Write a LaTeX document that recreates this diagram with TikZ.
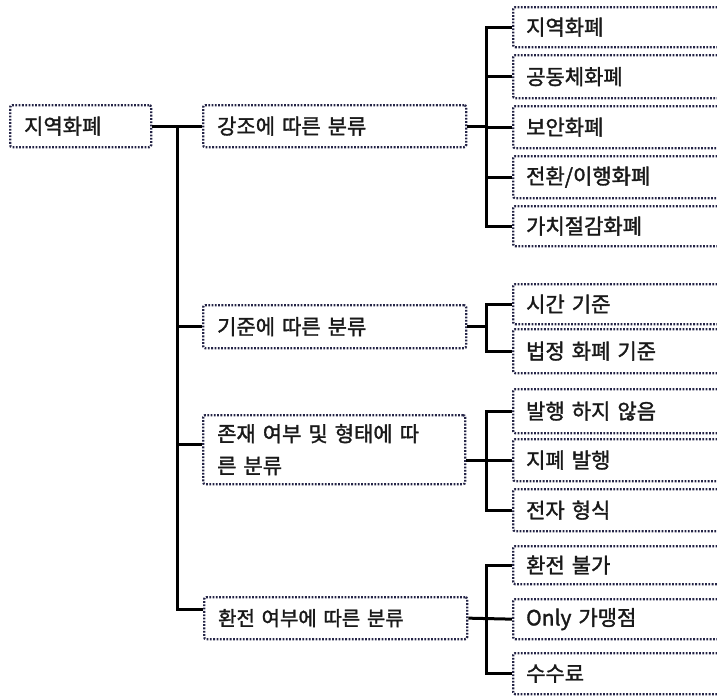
\documentclass[tikz,border=0pt]{standalone}
\usepackage{fontspec}
\usetikzlibrary{calc}
\setmainfont{Noto Sans CJK KR}[FakeBold=1.6]
\definecolor{boxc}{RGB}{36,36,70}
\definecolor{txt}{RGB}{25,25,25}
\tikzset{
  dbox/.style={draw=boxc, line width=2.3pt, dash pattern=on 1.8pt off 1.5pt,
    rounded corners=2pt, inner xsep=14pt, inner ysep=0pt, anchor=north west,
    align=left, text=txt, font=\fontsize{21}{32}\selectfont},
  kid/.style={dbox, text width=200pt, inner xsep=13pt},
  mid/.style={dbox, text width=235pt},
  conn/.style={line width=3pt, black}
}
\begin{document}
\begin{tikzpicture}[x=1pt,y=-1pt]
\useasboundingbox (0,0) rectangle (717,696);
\clip (0,0) rectangle (717,696);

% root and level 1
\node[dbox, text width=113pt, minimum height=42pt] (root) at (9,104) {지역화폐};
\node[mid, minimum height=42pt] (p1) at (202,104) {강조에 따른 분류};
\node[mid, minimum height=43pt] (p2) at (202,304) {기준에 따른 분류};
\node[mid, minimum height=69pt, text width=234pt] (p3) at (202,414) {존재 여부 및 형태에 따\\른 분류};
\node[mid, minimum height=42pt, font=\fontsize{20}{24}\selectfont] (p4) at (203,596) {환전 여부에 따른 분류};

% level 2
\node[kid, minimum height=40pt] (c11) at (512,6) {지역화폐};
\node[kid, minimum height=43pt] (c12) at (512,54) {공동체화폐};
\node[kid, minimum height=42pt] (c13) at (512,105) {보안화폐};
\node[kid, minimum height=42pt] (c14) at (512,155) {전환/이행화폐};
\node[kid, minimum height=40pt] (c15) at (512,205) {가치절감화폐};

\node[kid, minimum height=40pt] (c21) at (512,283) {시간 기준};
\node[kid, minimum height=44pt] (c22) at (512,328) {법정 화폐 기준};

\node[kid, minimum height=44pt] (c31) at (512,388) {발행 하지 않음};
\node[kid, minimum height=42pt] (c32) at (512,438) {지폐 발행};
\node[kid, minimum height=42pt] (c33) at (512,488) {전자 형식};

\node[kid, minimum height=38pt] (c41) at (512,545) {환전 불가};
\node[kid, minimum height=40pt] (c42) at (512,598) {Only 가맹점};
\node[kid, minimum height=41pt] (c43) at (512,652) {수수료};

% trunk
\coordinate (t) at (177,125);
\coordinate (p3w) at ($(p3.west)+(0,-5.5)$);
\coordinate (p4w) at ($(p4.west)+(0,-9)$);
\draw[conn] (root.east) -- (p1.west);
\draw[conn] (t) -- (t |- p4w) -- (p4w);
\draw[conn] (t |- p2.west) -- (p2.west);
\draw[conn] (t |- p3w) -- (p3w);

% branches
\coordinate (b) at (486,0);
\draw[conn] (p1.east) -- (b |- p1.east);
\draw[conn] (c11.west) -| (b |- c11.west) |- (c15.west);
\draw[conn] (b |- c12.west) -- (c12.west);
\draw[conn] (b |- c13.west) -- (c13.west);
\draw[conn] (b |- c14.west) -- (c14.west);

\draw[conn] (p2.east) -- (b |- p2.east);
\draw[conn] (c21.west) -| (b |- c21.west) |- (c22.west);

\draw[conn] (p3.east |- c32.west) -- (c32.west);
\draw[conn] (c31.west) -| (b |- c31.west) |- (c33.west);

\draw[conn] (p4.east) -- (c42.west);
\draw[conn] (c41.west) -| (b |- c41.west) |- (c43.west);
\end{tikzpicture}
\end{document}
